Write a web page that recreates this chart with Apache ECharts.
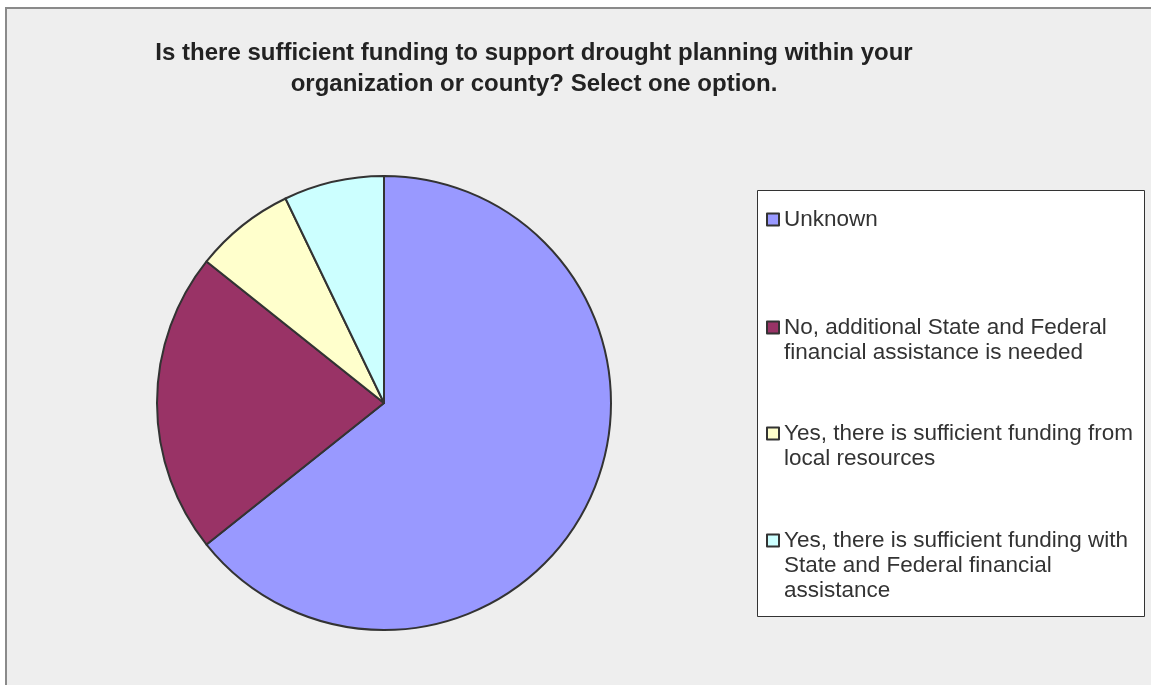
<!DOCTYPE html>
<html>
<head>
<meta charset="utf-8">
<script src="https://cdn.jsdelivr.net/npm/echarts@6/dist/echarts.min.js"></script>
<style>
  html, body { margin: 0; padding: 0; background: #fff; }
  #main { width: 1151px; height: 685px; }
</style>
</head>
<body>
<div id="main"></div>
<script>
// answers and counts
var answers = [
  'Unknown',
  'No, additional State and Federal financial assistance is needed',
  'Yes, there is sufficient funding from local resources',
  'Yes, there is sufficient funding with State and Federal financial assistance'
];
var legendLabels = [
  'Unknown',
  'No, additional State and Federal\nfinancial assistance is needed',
  'Yes, there is sufficient funding from\nlocal resources',
  'Yes, there is sufficient funding with\nState and Federal financial\nassistance'
];
var counts = [9, 3, 1, 1];
var colors = ['#9999FF', '#993366', '#FFFFCC', '#CCFFFF'];

var myChart = echarts.init(document.getElementById('main'));

// one legend per item so the spacing can follow the original;
// blank lines in front keep the marker level with the first text line
var legendTops = [207, 290, 396, 478];
var legends = answers.map(function (name, i) {
  var lines = legendLabels[i].split('\n').length;
  var pad = new Array(lines).join(' \n');
  return {
    orient: 'vertical',
    left: 766,
    top: legendTops[i],
    padding: 0,
    data: [name],
    icon: 'rect',
    itemWidth: 12,
    itemHeight: 12,
    formatter: function () { return pad + legendLabels[i]; },
    textStyle: {
      fontFamily: 'Liberation Sans, Arial, sans-serif',
      fontSize: 22.5,
      lineHeight: 25,
      color: '#333'
    },
    selectedMode: false
  };
});

myChart.setOption({
  animation: false,
  color: colors,
  graphic: [
    {
      type: 'rect',
      shape: { x: 6, y: 8, width: 1160, height: 700 },
      style: { fill: '#EEEEEE', stroke: '#8a8a8a', lineWidth: 2 },
      z: -10
    },
    {
      type: 'rect',
      shape: { x: 757.5, y: 190.5, width: 387, height: 426 },
      style: { fill: '#FFFFFF', stroke: '#333', lineWidth: 1 },
      z: -5
    }
  ],
  title: {
    text: 'Is there sufficient funding to support drought planning within your\norganization or county? Select one option.',
    left: 529,
    top: 33,
    textAlign: 'center',
    textStyle: {
      fontFamily: 'Liberation Sans, Arial, sans-serif',
      fontWeight: 'bold',
      fontSize: 24,
      lineHeight: 31,
      color: '#222'
    }
  },
  legend: legends,
  series: [{
    type: 'pie',
    center: [384, 403],
    radius: 227,
    startAngle: 90,
    clockwise: true,
    label: { show: false },
    labelLine: { show: false },
    emphasis: { disabled: true },
    itemStyle: { borderColor: '#333', borderWidth: 2 },
    data: answers.map(function (name, i) {
      return { name: name, value: counts[i] };
    })
  }]
});
</script>
</body>
</html>
